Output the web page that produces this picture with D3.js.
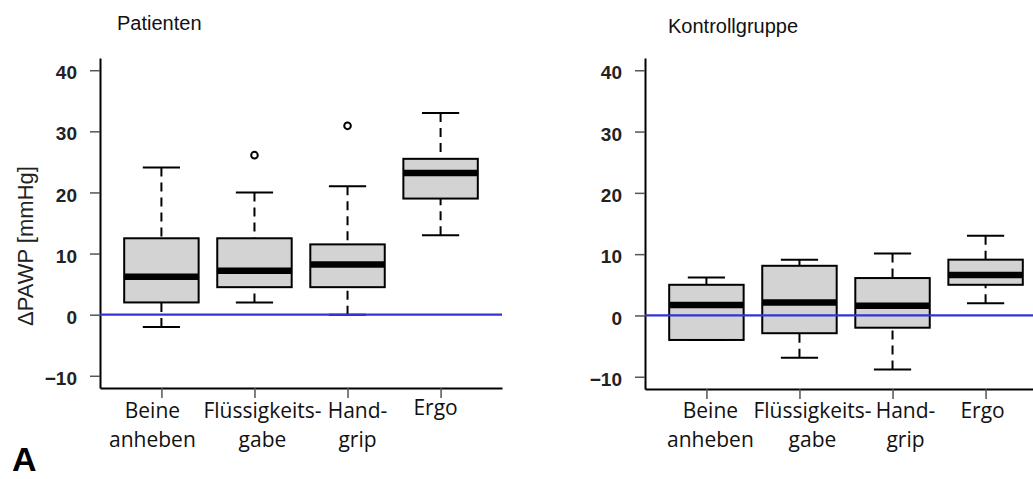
<html>
  <script src='https://d3js.org/d3.v7.min.js'></script>
  <style>
    body {margin: 0; background: white;}
    svg {display: block;}
    .tit {font-family: 'Liberation Sans', Arial, sans-serif; font-size: 20px; fill: #111;}
    .ytl {font-family: 'Liberation Sans', Arial, sans-serif; font-size: 19px; font-weight: bold; fill: #222;}
    .xtl {font-family: 'Open Sans', sans-serif; font-size: 21px; fill: #111;}
  </style>
  <body>
    <svg class="chart" width=1033 height=479></svg>
    <script>
      // categories and tick labels
      var categories = ["Beine anheben", "Flüssigkeitsgabe", "Handgrip", "Ergo"];
      var tickLines  = [["Beine", "anheben"], ["Flüssigkeits-", "gabe"], ["Hand-", "grip"], ["Ergo"]];
      var yTicks     = [-10, 0, 10, 20, 30, 40];

      // Patienten (whisker low, Q1, median, Q3, whisker high, outliers)
      var patLow  = [-2, 2, 0, 13];
      var patQ1   = [2, 4.5, 4.5, 19];
      var patMed  = [6.2, 7.2, 8.2, 23.2];
      var patQ3   = [12.5, 12.5, 11.5, 25.5];
      var patHigh = [24.1, 20, 21, 33];
      var patOut  = [[], [26.1], [30.9], []];

      // Kontrollgruppe
      var ctlLow  = [-4, -6.9, -8.8, 2];
      var ctlQ1   = [-4, -2.9, -2, 5];
      var ctlMed  = [1.7, 2.1, 1.6, 6.6];
      var ctlQ3   = [5, 8.1, 6.1, 9.1];
      var ctlHigh = [6.2, 9.1, 10.1, 13];
      var ctlOut  = [[], [], [], []];

      var svg = d3.select('.chart');

      function stats(low, q1, med, q3, high, out) {
        return categories.map(function(c, i) {
          return {cat: c, lines: tickLines[i], low: low[i], q1: q1[i], med: med[i], q3: q3[i], high: high[i], out: out[i]};
        });
      }

      function panel(opt) {
        var data = stats(opt.low, opt.q1, opt.med, opt.q3, opt.high, opt.out);

        var x = d3.scalePoint()
          .domain(categories)
          .range([opt.left, opt.left + 402])
          .padding(0.66);
        var y = d3.scaleLinear()
          .domain([-12, 42])
          .range([opt.bottom, 58]);

        var bw = 0.8 * x.step();   // R boxwex
        var g = svg.append("g");

        // whiskers (dashed, from whisker end to box)
        g.selectAll(".wh").data(data).enter().append("path")
          .attr("d", function(d) {
            return "M" + x(d.cat) + "," + y(d.high) + "V" + y(d.q3) +
                   "M" + x(d.cat) + "," + y(d.low) + "V" + y(d.q1);
          })
          .attr("stroke", "#000").attr("stroke-width", 2).attr("stroke-dasharray", "9,6").attr("fill", "none");

        // caps
        g.selectAll(".cap").data(data).enter().append("path")
          .attr("d", function(d) {
            return "M" + (x(d.cat) - bw / 4) + "," + y(d.high) + "H" + (x(d.cat) + bw / 4) +
                   "M" + (x(d.cat) - bw / 4) + "," + y(d.low) + "H" + (x(d.cat) + bw / 4);
          })
          .attr("stroke", "#000").attr("stroke-width", 2).attr("fill", "none");

        // boxes
        g.selectAll(".box").data(data).enter().append("rect")
          .attr("x", function(d) { return x(d.cat) - bw / 2; })
          .attr("y", function(d) { return y(d.q3); })
          .attr("width", bw)
          .attr("height", function(d) { return y(d.q1) - y(d.q3); })
          .attr("fill", "#d3d3d3").attr("stroke", "#000").attr("stroke-width", 2);

        // medians
        g.selectAll(".med").data(data).enter().append("line")
          .attr("x1", function(d) { return x(d.cat) - bw / 2; })
          .attr("x2", function(d) { return x(d.cat) + bw / 2; })
          .attr("y1", function(d) { return y(d.med); })
          .attr("y2", function(d) { return y(d.med); })
          .attr("stroke", "#000").attr("stroke-width", 6.5);

        // outliers
        data.forEach(function(d) {
          g.selectAll(null).data(d.out).enter().append("circle")
            .attr("cx", x(d.cat)).attr("cy", function(v) { return y(v); })
            .attr("r", 3.3).attr("fill", "white").attr("stroke", "#000").attr("stroke-width", 2);
        });

        // y axis
        var ya = g.append("g")
          .attr("transform", "translate(" + opt.left + ",0)")
          .call(d3.axisLeft(y).tickValues(yTicks).tickSize(10).tickSizeOuter(0).tickPadding(13));
        ya.select(".domain").attr("stroke", "#000").attr("stroke-width", 2);
        ya.selectAll(".tick line").attr("stroke", "#555").attr("stroke-width", 1.5);
        ya.selectAll(".tick text").attr("class", "ytl").attr("font-family", null).attr("font-size", null).attr("fill", null).attr("dy", "0.45em");

        // x axis
        var xa = g.append("g")
          .attr("transform", "translate(0," + opt.bottom + ")")
          .call(d3.axisBottom(x).tickSize(10).tickSizeOuter(0).tickFormat(""));
        xa.select(".domain").attr("stroke", "#000").attr("stroke-width", 2);
        xa.selectAll(".tick line").attr("stroke", "#555").attr("stroke-width", 1.5);
        xa.selectAll(".tick text").remove();

        data.forEach(function(d, i) {
          var t = g.append("text").attr("class", "xtl").attr("text-anchor", "middle");
          d.lines.forEach(function(s, k) {
            t.append("tspan")
              .attr("x", x(d.cat) + opt.shift[i][0])
              .attr("y", 418 + opt.shift[i][1] + k * 28.5)
              .text(s);
          });
        });

        // zero reference line
        g.append("line")
          .attr("x1", opt.left).attr("x2", opt.left + 402)
          .attr("y1", y(0)).attr("y2", y(0))
          .attr("stroke", "#3434d6").attr("stroke-width", 2.2);

        svg.append("text").attr("class", "tit")
          .attr("x", opt.titleX).attr("y", opt.titleY).text(opt.title);
      }

      panel({left: 100, bottom: 388, title: "Patienten", titleX: 117, titleY: 30,
             shift: [[-9, 0], [8, 0], [10, 0], [-5, -3]],
             low: patLow, q1: patQ1, med: patMed, q3: patQ3, high: patHigh, out: patOut});
      panel({left: 645, bottom: 389, title: "Kontrollgruppe", titleX: 668, titleY: 33,
             shift: [[4, 0], [13, 0], [13, 0], [-3, 0]],
             low: ctlLow, q1: ctlQ1, med: ctlMed, q3: ctlQ3, high: ctlHigh, out: ctlOut});

      // y axis title
      svg.append("text")
        .attr("transform", "translate(33,246) rotate(-90)")
        .attr("text-anchor", "middle")
        .style("font-family", "'Liberation Sans', Arial, sans-serif")
        .style("font-size", "22px")
        .style("fill", "#222")
        .text("ΔPAWP [mmHg]");

      // panel letter
      svg.append("text")
        .attr("x", 12).attr("y", 471)
        .style("font-family", "'Liberation Sans', Arial, sans-serif")
        .style("font-size", "34px").style("font-weight", "bold")
        .text("A");
    </script>
  </body>
</html>
